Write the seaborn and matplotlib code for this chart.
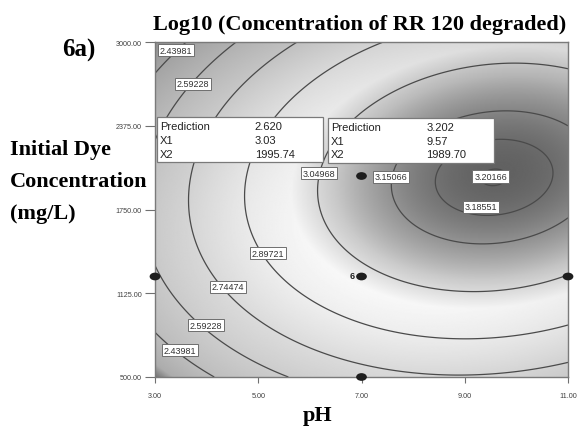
import numpy as np
import matplotlib
matplotlib.use("Agg")
import matplotlib.pyplot as plt
import seaborn as sns
from matplotlib.patches import Rectangle
from matplotlib.path import Path

# Quadratic response-surface model in coded factors
# A = (pH - 7) / 4,  B = (C0 - 1750) / 1250
b0, bA, bB, bAB, bAA, bBB = 3.1104, 0.2603, 0.0882, 0.0616, -0.2118, -0.3330

contour_levels = [2.43981, 2.59228, 2.74474, 2.89721, 3.04968, 3.15066, 3.18551, 3.20166]
# which level each contour tag names, and where the tag sits
label_level_idx = [0, 1, 0, 1, 2, 3, 4, 5, 7, 6]
label_pH = [3.41, 3.74, 3.48, 3.99, 4.41, 5.19, 6.18, 7.57, 9.50, 9.32]
label_conc = [2940, 2687, 701, 888, 1172, 1425, 2022, 1993, 1998, 1769]

design_pH = [3, 7, 7, 11, 7]
design_conc = [1250, 500, 1250, 1250, 2000]
replicate_count = "6"

x_ticks = [3, 5, 7, 9, 11]
y_ticks = [500, 1125, 1750, 2375, 3000]

pred_rows = ["Prediction", "X1", "X2"]
pred_a_vals = ["2.620", "3.03", "1995.74"]
pred_a_at = (3.03, 1995.74)
pred_b_vals = ["3.202", "9.57", "1989.70"]
pred_b_at = (9.57, 1989.70)

# grey ramp of the response (value -> grey level)
shade_vals = [2.27, 2.33, 2.45, 2.60, 2.75, 2.90, 3.00, 3.08, 3.15, 3.21]
shade_grey = [0.28, 0.55, 0.63, 0.70, 0.77, 0.86, 0.91, 0.75, 0.55, 0.36]

sns.set_theme(style="white")
plt.rcParams["font.family"] = ["Liberation Sans", "DejaVu Sans"]

W, H = 577, 431
fig = plt.figure(figsize=(W / 100, H / 100), dpi=100)
ax = fig.add_axes([155 / W, 1 - 378 / H, 413 / W, 335 / H])


def response(ph, conc):
    a = (ph - 7) / 4
    b = (conc - 1750) / 1250
    return b0 + bA * a + bB * b + bAB * a * b + bAA * a ** 2 + bBB * b ** 2


ph = np.linspace(3, 11, 500)
conc = np.linspace(500, 3000, 400)
PH, CC = np.meshgrid(ph, conc)
Z = response(PH, CC)

# slope-dependent light on top of the value ramp
A = (PH - 7) / 4
B = (CC - 1750) / 1250
gA = bA + bAB * B + 2 * bAA * A
gB = bB + bAB * A + 2 * bBB * B
G = np.interp(Z, shade_vals, shade_grey) + 0.14 * (0.7 * gA + 0.7 * gB)
G = np.clip(G, 0, 0.97)

ax.imshow(G, cmap="gray", vmin=0, vmax=1, origin="lower",
          extent=[3, 11, 500, 3000], aspect="auto", interpolation="bilinear", zorder=0)

ax.set_xlim(3, 11)
ax.set_ylim(500, 3000)

ax.contour(PH, CC, Z, levels=contour_levels, colors="#4a4a4a", linewidths=0.9, zorder=2)
for idx, lx, ly in zip(label_level_idx, label_pH, label_conc):
    ax.text(lx, ly, f"{contour_levels[idx]:.5f}", fontsize=6.5, color="#333333",
            ha="center", va="center", zorder=4,
            bbox=dict(boxstyle="square,pad=0.2", fc="white", ec="#6e6e6e", lw=0.7))

# design points
circ = Path.unit_circle()
ellipse = Path(circ.vertices * np.array([1.0, 0.72]), circ.codes)
sns.scatterplot(x=design_pH, y=design_conc, marker=ellipse, s=60, color="#1e1e1e",
                edgecolor="none", ax=ax, zorder=6, clip_on=False, legend=False)
ax.annotate(replicate_count, xy=(7, 1250), xytext=(-4.5, 0.5), textcoords="offset points",
            ha="right", va="center", fontsize=6.5, fontweight="bold", color="#222222", zorder=6)


def prediction_box(at, values, side):
    bw, bh, gap = 3.216, 336, 110
    x0 = at[0] if side == "left" else at[0] - bw
    y0 = at[1] + gap
    ax.add_patch(Rectangle((x0, y0), bw, bh, fc="white", ec="#7a7a7a", lw=0.9, zorder=7))
    for i, (name, val) in enumerate(zip(pred_rows, values)):
        yy = y0 + bh - (67 + 104 * i)
        ax.text(x0 + 0.06, yy, name, fontsize=8, color="#222222", va="center", ha="left", zorder=8)
        ax.text(x0 + 1.90, yy, val, fontsize=8, color="#222222", va="center", ha="left", zorder=8)


prediction_box(pred_a_at, pred_a_vals, "left")
prediction_box(pred_b_at, pred_b_vals, "right")

ax.set_xticks(x_ticks)
ax.set_yticks(y_ticks)
ax.set_xticklabels([f"{v:.2f}" for v in x_ticks])
ax.set_yticklabels([f"{v:.2f}" for v in y_ticks])
ax.tick_params(axis="y", direction="out", length=7.5, width=0.8, color="#707070",
               labelsize=5.2, labelcolor="#404040", pad=2, left=True)
ax.tick_params(axis="x", direction="out", length=4.5, width=0.8, color="#707070",
               labelsize=5.2, labelcolor="#404040", pad=6, bottom=True)
for s in ax.spines.values():
    s.set_color("#7a7a7a")
    s.set_linewidth(1.0)

serif = ["Liberation Serif", "DejaVu Serif"]


def ftext(x, y, s, **kw):
    fig.text(x / W, 1 - y / H, s, family=serif, fontweight="bold", color="black", **kw)


ftext(360, 30, "Log10 (Concentration of RR 120 degraded)", fontsize=16, ha="center", va="baseline")
ftext(62, 57, "6a)", fontsize=18, ha="left", va="baseline")
ftext(10, 155, "Initial Dye", fontsize=16, ha="left", va="baseline")
ftext(10, 187, "Concentration", fontsize=16, ha="left", va="baseline")
ftext(10, 219, "(mg/L)", fontsize=16, ha="left", va="baseline")
ftext(318, 421, "pH", fontsize=16, ha="center", va="baseline")

fig.savefig("out.png", dpi=100)
